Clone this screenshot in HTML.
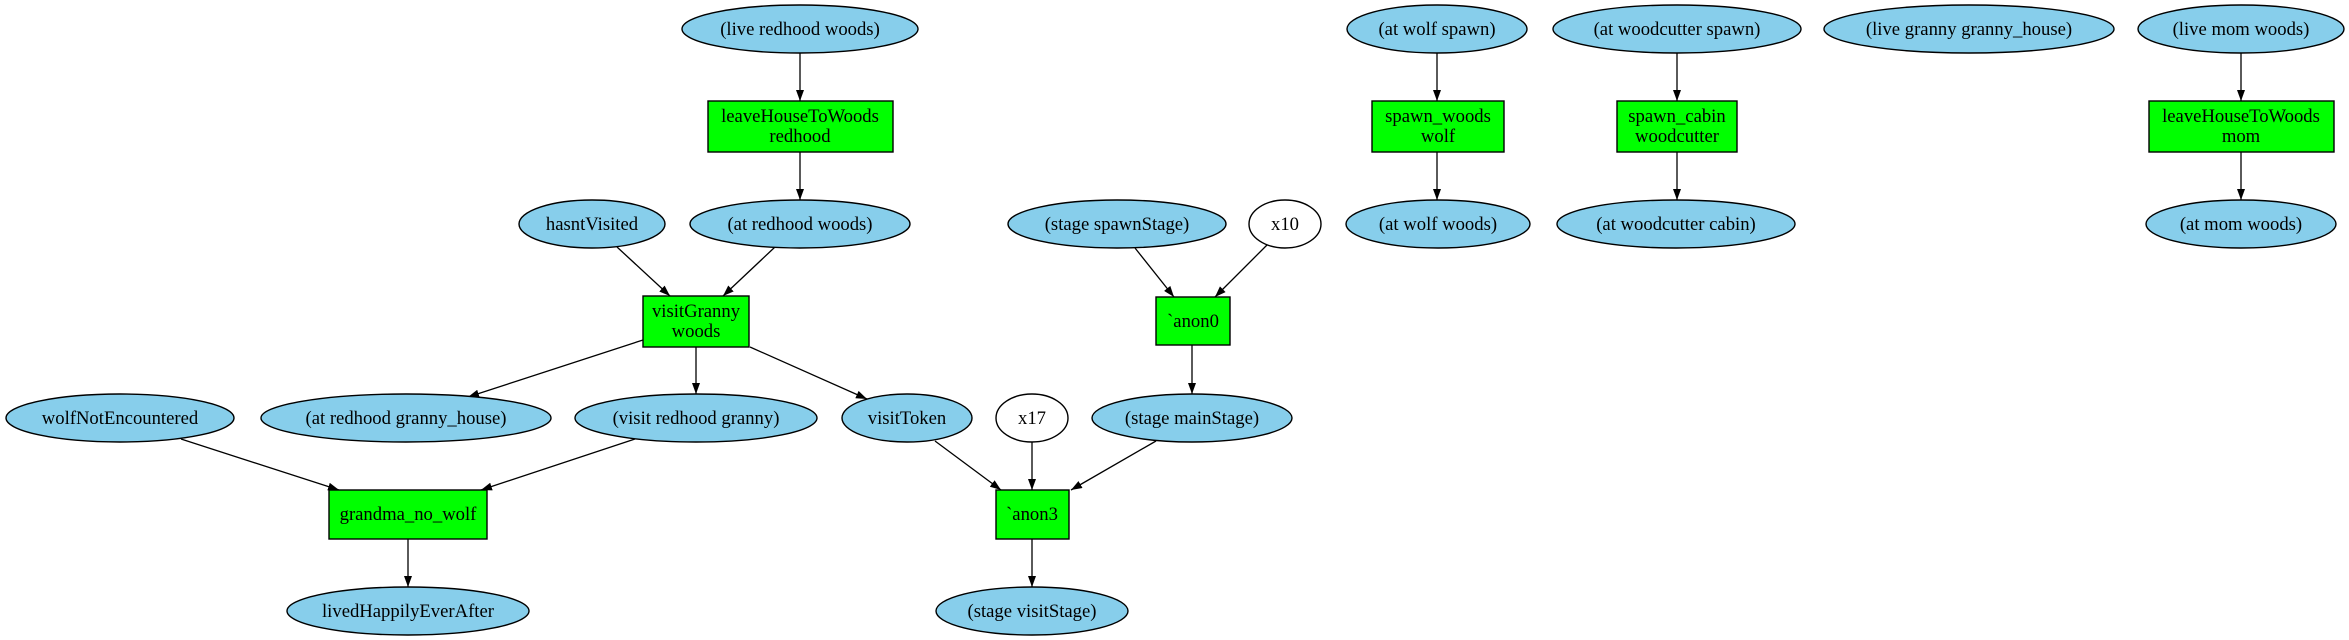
<!DOCTYPE html>
<html><head><meta charset="utf-8"><style>
html,body{margin:0;padding:0;background:#fff;}
svg{display:block;}
text{font-family:"Liberation Serif",serif;font-size:18.67px;text-anchor:middle;fill:#000;}
.e{fill:#87ceeb;stroke:#000;stroke-width:1.4;}
.w{fill:#fff;stroke:#000;stroke-width:1.4;}
.b{fill:#00ff00;stroke:#000;stroke-width:1.4;}
.l{stroke:#000;stroke-width:1.3;fill:none;marker-end:url(#a);}
</style></head><body>
<svg width="2349" height="640" viewBox="0 0 2349 640" xmlns="http://www.w3.org/2000/svg">
<defs><marker id="a" markerUnits="userSpaceOnUse" markerWidth="11" markerHeight="8" refX="11" refY="4" orient="auto"><path d="M0,0 L11,4 L0,8 z" fill="#000"/></marker></defs>

<!-- edges -->
<line class="l" x1="800" y1="53" x2="800" y2="101"/>
<line class="l" x1="800" y1="152" x2="800" y2="200"/>
<line class="l" x1="617" y1="247" x2="670" y2="296"/>
<line class="l" x1="775" y1="247" x2="723" y2="296"/>
<line class="l" x1="643" y1="340" x2="468" y2="397"/>
<line class="l" x1="696" y1="347" x2="696" y2="394"/>
<line class="l" x1="750" y1="347" x2="867" y2="399"/>
<line class="l" x1="181" y1="439" x2="339" y2="490"/>
<line class="l" x1="635" y1="439" x2="481" y2="490"/>
<line class="l" x1="935" y1="441" x2="1001" y2="490"/>
<line class="l" x1="1032" y1="442" x2="1032" y2="490"/>
<line class="l" x1="1156" y1="441" x2="1071" y2="490"/>
<line class="l" x1="408" y1="539" x2="408" y2="587"/>
<line class="l" x1="1032" y1="539" x2="1032" y2="587"/>
<line class="l" x1="1135" y1="248" x2="1174" y2="297"/>
<line class="l" x1="1267" y1="245" x2="1215" y2="297"/>
<line class="l" x1="1192" y1="345" x2="1192" y2="394"/>
<line class="l" x1="1437" y1="53" x2="1437" y2="101"/>
<line class="l" x1="1437" y1="152" x2="1437" y2="200"/>
<line class="l" x1="1677" y1="53" x2="1677" y2="101"/>
<line class="l" x1="1677" y1="152" x2="1677" y2="200"/>
<line class="l" x1="2241" y1="53" x2="2241" y2="101"/>
<line class="l" x1="2241" y1="152" x2="2241" y2="200"/>

<!-- nodes -->
<ellipse class="e" cx="800" cy="29" rx="118" ry="24"/><text x="800" y="35">(live redhood woods)</text>
<rect class="b" x="708" y="101" width="185" height="51"/><text x="800" y="122">leaveHouseToWoods</text><text x="800" y="142">redhood</text>
<ellipse class="e" cx="592" cy="224" rx="73" ry="24"/><text x="592" y="230">hasntVisited</text>
<ellipse class="e" cx="800" cy="224" rx="110" ry="24"/><text x="800" y="230">(at redhood woods)</text>
<rect class="b" x="643" y="296" width="106" height="51"/><text x="696" y="317">visitGranny</text><text x="696" y="337">woods</text>
<ellipse class="e" cx="120" cy="418" rx="114" ry="24"/><text x="120" y="424">wolfNotEncountered</text>
<ellipse class="e" cx="406" cy="418" rx="145" ry="24"/><text x="406" y="424">(at redhood granny_house)</text>
<ellipse class="e" cx="696" cy="418" rx="121" ry="24"/><text x="696" y="424">(visit redhood granny)</text>
<ellipse class="e" cx="907" cy="418" rx="65" ry="24"/><text x="907" y="424">visitToken</text>
<ellipse class="w" cx="1032" cy="418" rx="36" ry="24"/><text x="1032" y="424">x17</text>
<ellipse class="e" cx="1192" cy="418" rx="100" ry="24"/><text x="1192" y="424">(stage mainStage)</text>
<rect class="b" x="329" y="490" width="158" height="49"/><text x="408" y="520">grandma_no_wolf</text>
<rect class="b" x="996" y="490" width="73" height="49"/><text x="1032" y="520">`anon3</text>
<ellipse class="e" cx="408" cy="611" rx="121" ry="24"/><text x="408" y="617">livedHappilyEverAfter</text>
<ellipse class="e" cx="1032" cy="611" rx="96" ry="24"/><text x="1032" y="617">(stage visitStage)</text>
<ellipse class="e" cx="1117" cy="224" rx="109" ry="24"/><text x="1117" y="230">(stage spawnStage)</text>
<ellipse class="w" cx="1285" cy="224" rx="36" ry="24"/><text x="1285" y="230">x10</text>
<rect class="b" x="1156" y="297" width="74" height="48"/><text x="1193" y="327">`anon0</text>

<ellipse class="e" cx="1437" cy="29" rx="90" ry="24"/><text x="1437" y="35">(at wolf spawn)</text>
<rect class="b" x="1372" y="101" width="132" height="51"/><text x="1438" y="122">spawn_woods</text><text x="1438" y="142">wolf</text>
<ellipse class="e" cx="1438" cy="224" rx="92" ry="24"/><text x="1438" y="230">(at wolf woods)</text>

<ellipse class="e" cx="1677" cy="29" rx="124" ry="24"/><text x="1677" y="35">(at woodcutter spawn)</text>
<rect class="b" x="1617" y="101" width="120" height="51"/><text x="1677" y="122">spawn_cabin</text><text x="1677" y="142">woodcutter</text>
<ellipse class="e" cx="1676" cy="224" rx="119" ry="24"/><text x="1676" y="230">(at woodcutter cabin)</text>

<ellipse class="e" cx="1969" cy="29" rx="145" ry="24"/><text x="1969" y="35">(live granny granny_house)</text>

<ellipse class="e" cx="2241" cy="29" rx="103" ry="24"/><text x="2241" y="35">(live mom woods)</text>
<rect class="b" x="2149" y="101" width="185" height="51"/><text x="2241" y="122">leaveHouseToWoods</text><text x="2241" y="142">mom</text>
<ellipse class="e" cx="2241" cy="224" rx="95" ry="24"/><text x="2241" y="230">(at mom woods)</text>
</svg>
</body></html>
